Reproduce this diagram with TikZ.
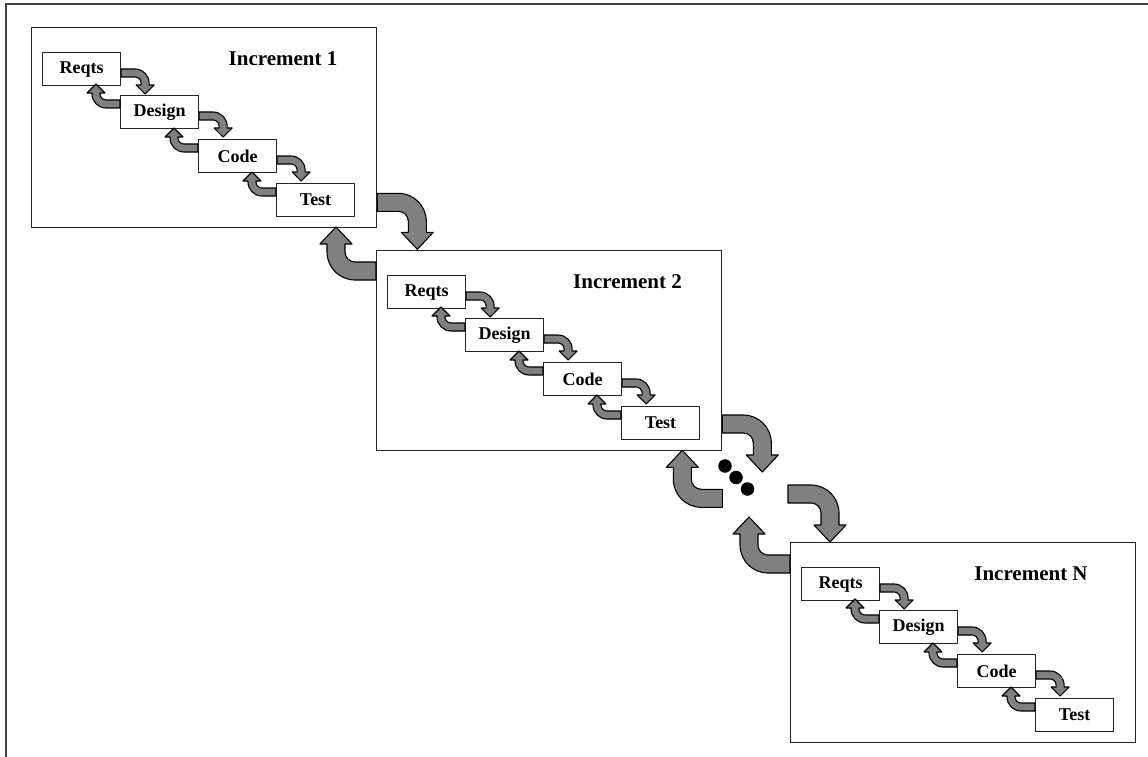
\documentclass[tikz,border=0pt]{standalone}
\usepackage{fontspec}
\setmainfont{Liberation Serif}
\usetikzlibrary{calc}
\tikzset{
  frame/.style={draw=black!75, line width=2pt},
  incbox/.style={draw=black!85, line width=1.3pt, minimum width=345pt, minimum height=200pt, inner sep=0pt, anchor=north west},
  stagebox/.style={draw=black!85, fill=white, line width=1.1pt, minimum width=78pt, minimum height=33pt, inner sep=0pt, anchor=north west, font=\bfseries\fontsize{18}{20}\selectfont},
  inctitle/.style={inner sep=0pt, font=\bfseries\fontsize{21}{24}\selectfont},
  blockarr/.style={fill=black!50, draw=black, line width=1.1pt, line join=round},
  dotnode/.style={circle, fill=black, minimum size=13.5pt, inner sep=0pt}
}
% #1 L, #2 V, #3 thickness, #4 head half width, #5 head length, #6 outer radius
\newcommand{\blockarrow}[6]{%
  \filldraw[blockarr] (0,0) -- ({#1+#3/2-#6},0)
    .. controls ({#1+#3/2-0.448*#6},0) and ({#1+#3/2},{0.448*#6}) .. ({#1+#3/2},{#6})
    -- ({#1+#3/2},{#2-#5}) -- ({#1+#4},{#2-#5}) -- ({#1},{#2}) -- ({#1-#4},{#2-#5})
    -- ({#1-#3/2},{#2-#5}) -- ({#1-#3/2},{#6})
    .. controls ({#1-#3/2},{#3+0.448*(#6-#3)}) and ({#1-#3/2-0.448*(#6-#3)},{#3}) .. ({#1-#3/2-#6+#3},{#3})
    -- (0,{#3}) -- cycle;}
\newcommand{\smallfwd}[1]{%
  \begin{scope}[shift={($(#1.north east)+(0,17)$)}]\blockarrow{24}{25}{8}{9}{9}{14}\end{scope}}
\newcommand{\smallback}[1]{%
  \begin{scope}[shift={($(#1.north west)+(0,13)$)}, rotate=180]\blockarrow{24}{24}{8}{9}{9}{14}\end{scope}}
% #1 prefix, #2 x, #3 y, #4 title, #5 title centre dx
\newcommand{\incrementblock}[5]{%
  \node[incbox] (#1box) at (#2,#3) {};
  \node[stagebox] (#1r) at ({#2+11},{#3+25}) {Reqts};
  \node[stagebox] (#1d) at ({#2+89},{#3+68}) {Design};
  \node[stagebox] (#1c) at ({#2+167},{#3+112}) {Code};
  \node[stagebox] (#1t) at ({#2+245},{#3+156}) {Test};
  \node[inctitle] (#1title) at ({#2+#5},{#3+32}) {#4};
  \smallfwd{#1r}\smallfwd{#1d}\smallfwd{#1c}
  \smallback{#1d}\smallback{#1c}\smallback{#1t}}
\begin{document}
\begin{tikzpicture}[x=1pt,y=-1pt]
\useasboundingbox (0,0) rectangle (1148,757);
\fill[white] (0,0) rectangle (1148,757);
\draw[frame] (1148,4.5) -- (5.5,4.5) -- (5.5,757);
\incrementblock{incA}{31}{27}{Increment 1}{252}
\incrementblock{incB}{376}{250}{Increment 2}{251.5}
\incrementblock{incN}{790}{542}{Increment N}{241}
% big arrows
\begin{scope}[shift={($(incAbox.south east)+(0,-35)$)}]\blockarrow{40}{56}{18}{16}{17}{28}\end{scope}
\begin{scope}[shift={($(incBbox.north west)+(0,30)$)}, rotate=180]\blockarrow{40}{53}{18}{16}{17}{28}\end{scope}
\begin{scope}[shift={($(incBbox.north east)+(0,165)$)}]\blockarrow{40}{57}{18}{16}{17}{28}\end{scope}
\begin{scope}[shift={($(incBbox.south east)+(0,56)$)}, rotate=180]\blockarrow{40}{57}{18}{16}{17}{28}\end{scope}
\begin{scope}[shift={($(incNbox.north west)+(-2,-57)$)}]\blockarrow{42}{57}{18}{16}{17}{28}\end{scope}
\begin{scope}[shift={($(incNbox.north west)+(0,31)$)}, rotate=180]\blockarrow{41}{56}{18}{16}{17}{28}\end{scope}
% dots
\node[dotnode] (dot1) at (725,466) {};
\node[dotnode] (dot2) at (736,477.5) {};
\node[dotnode] (dot3) at (747.5,489) {};
\end{tikzpicture}
\end{document}
